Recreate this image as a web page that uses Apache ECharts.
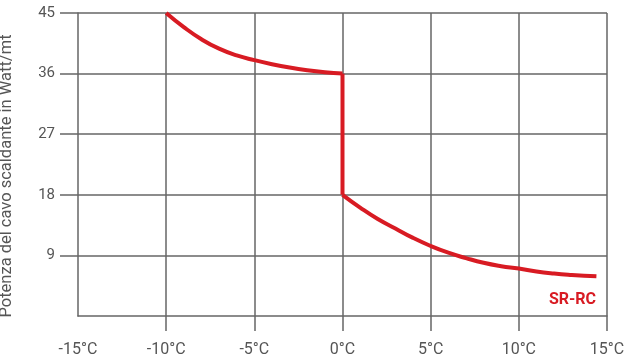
<!DOCTYPE html>
<html>
<head>
<meta charset="utf-8">
<script src="https://cdn.jsdelivr.net/npm/echarts@6/dist/echarts.min.js"></script>
<style>html,body{margin:0;padding:0;background:#fff}#c{width:625px;height:360px}</style>
</head>
<body>
<div id="c"></div>
<script>
const xTicks = [-10, -5, 0, 5, 10, 15];
const yTicks = [9, 18, 27, 36, 45];
const upperTemps = [-10, -9, -8, -7, -6, -5, -4, -3, -2, -1, 0];
const upperPower = [45, 42.9, 41.1, 39.7, 38.7, 38.0, 37.4, 36.9, 36.5, 36.2, 36.0];
const stepTemps = [0, 0];
const stepPower = [36, 18];
const lowerTemps = [0, 1, 2, 3, 4, 5, 6, 7, 8, 9, 10, 11, 12, 13, 14.4];
const lowerPower = [18, 16.1, 14.4, 13.0, 11.6, 10.4, 9.4, 8.6, 7.9, 7.4, 7.05, 6.6, 6.3, 6.1, 5.9];
const seriesName = 'SR-RC';
const yName = 'Potenza del cavo scaldante in Watt/mt';

const zip = (a, b) => a.map((v, i) => [v, b[i]]);
const red = '#d81b23';
const grey = '#666666';
const lineStyle = { color: red, width: 4, cap: 'butt', join: 'miter' };

const chart = echarts.init(document.getElementById('c'));
chart.setOption({
  animation: false,
  title: {
    text: seriesName, right: 24, top: 287,
    textStyle: { color: red, fontFamily: 'Roboto', fontWeight: 'bold', fontSize: 16 }
  },
  grid: { left: 78, right: 18, top: 13, bottom: 44, outerBoundsMode: 'none', containLabel: false },
  xAxis: {
    type: 'value', min: -15, max: 15, interval: 5,
    axisLine: { show: true, onZero: false, lineStyle: { color: grey, width: 1.5 } },
    axisTick: { show: true, length: 15, customValues: xTicks, lineStyle: { color: grey, width: 1.5 } },
    axisLabel: { customValues: [-15].concat(xTicks), formatter: v => v + '°C', margin: 26,
      color: '#555', fontFamily: 'Roboto', fontSize: 16 },
    splitLine: { show: true, lineStyle: { color: grey, width: 1.5 } }
  },
  yAxis: {
    type: 'value', min: 0, max: 45, interval: 9,
    name: yName, nameLocation: 'middle', nameGap: 63,
    nameTextStyle: { color: '#555', fontFamily: 'Roboto', fontSize: 16.5, padding: [0, 23, 0, 0] },
    axisLine: { show: true, onZero: false, lineStyle: { color: grey, width: 1.5 } },
    axisTick: { show: true, length: 18, customValues: yTicks, lineStyle: { color: grey, width: 1.5 } },
    axisLabel: { customValues: yTicks, margin: 23, color: '#555', fontFamily: 'Roboto', fontSize: 15,
      padding: [0, 0, 4, 0] },
    splitLine: { show: true, lineStyle: { color: grey, width: 1.5 } }
  },
  series: [
    { type: 'line', data: zip(upperTemps, upperPower), smooth: true, symbol: 'none', lineStyle },
    { type: 'line', data: zip(stepTemps, stepPower), symbol: 'none', lineStyle },
    { type: 'line', data: zip(lowerTemps, lowerPower), smooth: true, symbol: 'none', lineStyle }
  ]
});
</script>
</body>
</html>
